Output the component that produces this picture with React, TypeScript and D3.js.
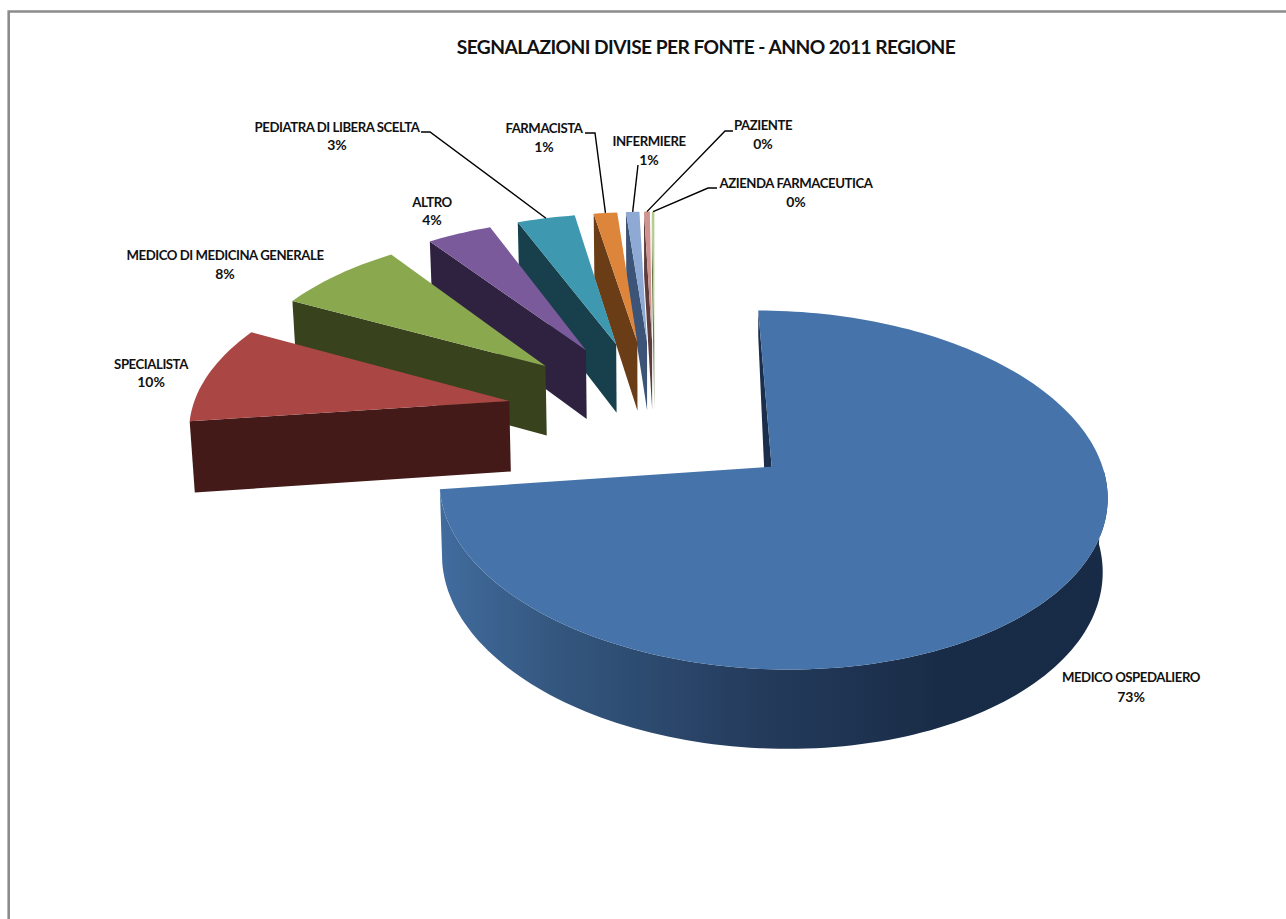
import React from "react";
import * as d3 from "d3";

// Sources of the 2011 reports, in pie order (clockwise from twelve o'clock).
const sources = [
  "MEDICO OSPEDALIERO",
  "SPECIALISTA",
  "MEDICO DI MEDICINA GENERALE",
  "ALTRO",
  "PEDIATRA DI LIBERA SCELTA",
  "FARMACISTA",
  "INFERMIERE",
  "PAZIENTE",
  "AZIENDA FARMACEUTICA",
];
const shares = [73, 9.5, 7.5, 3.85, 3.45, 1.4, 0.8, 0.35, 0.15];

const topColors = ["#4674aa", "#aa4644", "#8aa84e", "#7a5a9a", "#3d98b0", "#dd853a", "#8ea9d3", "#cf9390", "#b4cc8c"];
const wallColors = ["#1b2f4d", "#431a18", "#38421d", "#2f2140", "#17404c", "#6b3d16", "#3c5478", "#5d3d3c", "#6a7c4c"];

// Label anchor (centre x, first line y, second line y) and leader elbows, by source.
const labelPlacement: [number, number, number][] = [
  [1131, 682, 702],
  [151, 369, 387],
  [225, 260, 279],
  [432, 207, 225],
  [337, 132, 150],
  [544, 133, 152],
  [649, 146, 165],
  [763, 130, 149],
  [796, 188, 207],
];
const leaderElbows: ([number, number][] | null)[] = [
  null,
  null,
  null,
  null,
  [[421, 132], [430, 132]],
  [[585, 133], [595, 133]],
  [[638, 165]],
  [[733, 131], [725, 131]],
  [[717, 188], [708, 188]],
];

const W = 1286;
const H = 919;

// Ground-plane perspective: u runs right, v runs away from the viewer, radius = 1.
const cam = { x0: 655, y0: 414, sx: 318, sy: 163, p: 0.125 };
const explode = 0.47;
const thickness = 71;

type Pt = [number, number];
const project = (u: number, v: number): Pt => {
  const w = 1 + cam.p * v;
  return [cam.x0 + (cam.sx * u) / w, cam.y0 - (cam.sy * v) / w];
};
const projectBase = (u: number, v: number): Pt => {
  const [x, y] = project(u, v);
  return [cam.x0 + (x - cam.x0) * 0.989, y + thickness / (1 + 0.08 * v)];
};

const path = d3.line<Pt>().x((d) => d[0]).y((d) => d[1]);

const arcs = d3
  .pie<number>()
  .sort(null)
  .startAngle(0)
  .endAngle(2 * Math.PI)(shares);

const slices = arcs.map((a, i) => {
  const mid = (a.startAngle + a.endAngle) / 2;
  const cu = Math.sin(mid) * explode;
  const cv = Math.cos(mid) * explode;
  const steps = Math.max(2, Math.ceil((a.endAngle - a.startAngle) * 40));
  const angles = d3.range(steps + 1).map((k) => a.startAngle + ((a.endAngle - a.startAngle) * k) / steps);
  const rim = (t: number): [number, number] => [cu + Math.sin(t), cv + Math.cos(t)];
  // Only the front half of the curved wall can be seen from above.
  const front = angles.filter((t) => t >= Math.PI / 2);
  return {
    i,
    apex: project(cu, cv),
    apexBase: projectBase(cu, cv),
    rimTop: angles.map((t) => project(...rim(t))),
    rimBase: angles.map((t) => projectBase(...rim(t))),
    frontTop: front.map((t) => project(...rim(t))),
    frontBase: front.map((t) => projectBase(...rim(t))),
    midRim: project(...rim(mid)),
  };
});

const main = slices[0];
const others = slices.slice(1).reverse();

export default function App() {
  const xs = main.rimTop.map((p) => p[0]);
  return (
    <svg
      width={W}
      height={H}
      viewBox={`0 0 ${W} ${H}`}
      style={{ position: "fixed", left: 0, top: 0, background: "#fff" }}
      fontFamily="Lato, 'Open Sans', sans-serif"
    >
      <defs>
        <linearGradient id="mainWall" gradientUnits="userSpaceOnUse" x1={d3.min(xs)} x2={d3.max(xs)} y1={0} y2={0}>
          <stop offset="0" stopColor="#416c9e" />
          <stop offset="0.17" stopColor="#34577f" />
          <stop offset="0.48" stopColor="#243b5c" />
          <stop offset="0.75" stopColor="#192c47" />
          <stop offset="1" stopColor="#182b46" />
        </linearGradient>
      </defs>

      {/* chart frame */}
      <path d={`M${W} 11.5H8.7V${H}`} fill="none" stroke="#8c8c8c" strokeWidth={2.6} />

      <text x={706} y={53.5} textAnchor="middle" fontSize={19.2} fontWeight={700} fill="#111" letterSpacing={-0.55}>
        SEGNALAZIONI DIVISE PER FONTE - ANNO 2011 REGIONE
      </text>

      {/* exploded slices, back to front */}
      {others.map((s) => (
        <g key={s.i}>
          <path
            d={path([s.apex, s.rimTop[0], s.rimBase[0], s.apexBase])! + "Z"}
            fill={wallColors[s.i]}
          />
          <path d={path([s.apex, ...s.rimTop])! + "Z"} fill={topColors[s.i]} />
        </g>
      ))}

      {/* the large slice: cut wall, curved wall, top */}
      <path
        d={path([main.apex, main.rimTop[0], [main.rimTop[0][0], main.rimTop[0][1] + 25], [main.apexBase[0] - 3, main.apexBase[1]]])! + "Z"}
        fill={wallColors[0]}
      />
      <path d={path([...main.frontTop, ...main.frontBase.slice().reverse()])! + "Z"} fill="url(#mainWall)" />
      <path d={path([main.apex, ...main.rimTop])! + "Z"} fill={topColors[0]} />

      {/* leader lines */}
      {slices.map((s) => {
        const elbow = leaderElbows[s.i];
        if (!elbow) return null;
        return (
          <path key={s.i} d={path([...elbow, s.midRim])!} fill="none" stroke="#000" strokeWidth={1.4} />
        );
      })}

      {/* labels */}
      {sources.map((name, i) => {
        const [x, y1, y2] = labelPlacement[i];
        return (
          <g key={name} textAnchor="middle" fontSize={13.2} fontWeight={700} fill="#111" letterSpacing={-0.45}>
            <text x={x} y={y1}>{name}</text>
            <text x={x} y={y2} fontSize={14} letterSpacing={0}>{Math.round(shares[i])}%</text>
          </g>
        );
      })}
    </svg>
  );
}
